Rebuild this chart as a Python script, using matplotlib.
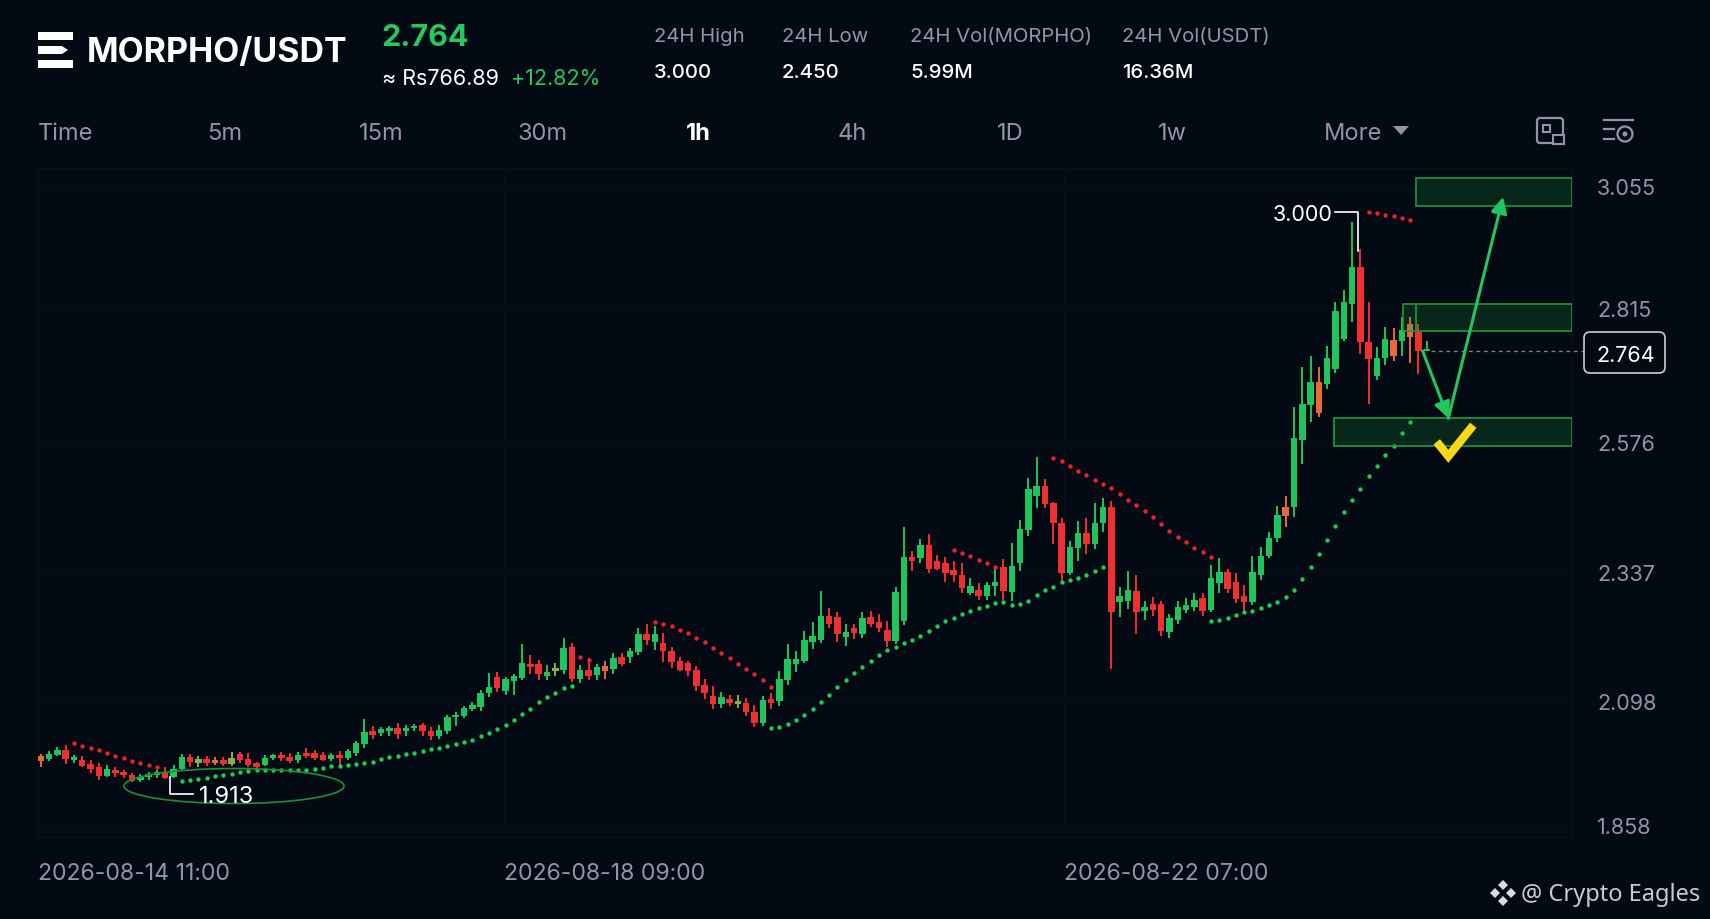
import matplotlib
matplotlib.use('Agg')
import matplotlib.pyplot as plt
import numpy as np
from matplotlib.patches import Rectangle, Ellipse, FancyArrowPatch, FancyBboxPatch, Polygon, Circle

plt.rcParams['font.family'] = ['Inter', 'DejaVu Sans']

# hourly candles
opens = [1.987,1.982,1.990,1.999,1.980,1.980,1.972,1.967,1.950,1.962,
         1.958,1.952,1.943,1.949,1.952,1.955,1.949,1.963,1.986,1.974,
         1.982,1.980,1.980,1.972,1.991,1.982,1.974,1.970,1.983,1.990,
         1.985,1.980,1.993,1.993,1.990,1.982,1.990,1.983,1.993,2.010,
         2.035,2.030,2.034,2.040,2.034,2.039,2.045,2.035,2.025,2.034,
         2.060,2.063,2.076,2.079,2.105,2.136,2.109,2.127,2.134,2.160,
         2.159,2.137,2.146,2.149,2.191,2.131,2.148,2.139,2.155,2.150,
         2.172,2.173,2.182,2.216,2.200,2.198,2.184,2.165,2.161,2.148,
         2.120,2.099,2.085,2.094,2.085,2.086,2.069,2.049,2.094,2.091,
         2.129,2.160,2.166,2.201,2.205,2.249,2.248,2.210,2.226,2.216,
         2.248,2.238,2.224,2.202,2.240,2.360,2.358,2.382,2.353,2.348,
         2.335,2.326,2.293,2.297,2.286,2.305,2.340,2.295,2.348,2.411,
         2.473,2.493,2.460,2.424,2.330,2.376,2.404,2.383,2.423,2.454,
         2.275,2.277,2.296,2.258,2.272,2.272,2.220,2.241,2.261,2.267,
         2.283,2.260,2.311,2.332,2.313,2.286,2.275,2.325,2.361,2.396,
         2.454,2.454,2.579,2.643,2.687,2.684,2.712,2.768,2.832,2.902,
         2.761,2.698,2.731,2.766,2.764,2.796,2.780,2.744]
closes = [1.979,1.991,1.999,1.982,1.985,1.969,1.963,1.951,1.963,1.955,
          1.952,1.941,1.949,1.954,1.957,1.947,1.964,1.986,1.977,1.982,
          1.974,1.974,1.972,1.983,1.980,1.971,1.967,1.983,1.989,1.983,
          1.978,1.990,1.988,1.984,1.980,1.989,1.983,1.997,2.012,2.033,
          2.027,2.038,2.040,2.028,2.040,2.044,2.034,2.025,2.036,2.060,
          2.064,2.077,2.083,2.106,2.117,2.114,2.131,2.137,2.161,2.153,
          2.140,2.145,2.152,2.190,2.131,2.148,2.137,2.153,2.147,2.171,
          2.160,2.184,2.215,2.204,2.216,2.183,2.164,2.149,2.147,2.118,
          2.105,2.085,2.097,2.086,2.091,2.069,2.049,2.092,2.087,2.131,
          2.168,2.168,2.205,2.211,2.249,2.234,2.215,2.220,2.217,2.246,
          2.235,2.227,2.203,2.295,2.360,2.352,2.382,2.338,2.337,2.330,
          2.325,2.302,2.305,2.287,2.307,2.312,2.296,2.343,2.412,2.486,
          2.493,2.458,2.423,2.330,2.379,2.404,2.384,2.424,2.454,2.256,
          2.286,2.297,2.256,2.267,2.260,2.221,2.245,2.267,2.269,2.280,
          2.259,2.320,2.332,2.300,2.281,2.276,2.332,2.362,2.396,2.438,
          2.437,2.582,2.645,2.687,2.629,2.731,2.820,2.836,2.902,2.761,
          2.730,2.731,2.768,2.735,2.784,2.771,2.744,2.745]
highs = [1.991,1.997,2.005,2.008,1.989,1.988,1.980,1.975,1.971,1.966,
         1.961,1.956,1.953,1.958,1.962,1.966,1.971,1.991,1.991,1.987,
         1.987,1.985,1.985,1.995,1.995,1.994,1.977,1.990,1.992,1.995,
         1.994,1.995,2.002,1.998,1.995,1.993,1.997,2.000,2.016,2.056,
         2.044,2.042,2.044,2.049,2.045,2.048,2.049,2.041,2.045,2.064,
         2.070,2.081,2.089,2.111,2.142,2.145,2.135,2.140,2.197,2.177,
         2.167,2.157,2.161,2.209,2.198,2.157,2.170,2.159,2.165,2.180,
         2.181,2.190,2.227,2.234,2.231,2.217,2.192,2.172,2.165,2.155,
         2.131,2.119,2.107,2.102,2.102,2.095,2.082,2.100,2.106,2.147,
         2.197,2.183,2.221,2.238,2.296,2.265,2.256,2.235,2.235,2.257,
         2.259,2.253,2.239,2.303,2.416,2.371,2.394,2.402,2.363,2.360,
         2.353,2.348,2.320,2.311,2.312,2.337,2.356,2.386,2.429,2.507,
         2.546,2.505,2.463,2.433,2.390,2.427,2.433,2.460,2.470,2.465,
         2.303,2.333,2.326,2.277,2.285,2.277,2.253,2.277,2.283,2.292,
         2.292,2.344,2.357,2.337,2.329,2.308,2.362,2.379,2.407,2.455,
         2.473,2.641,2.715,2.736,2.715,2.755,2.837,2.858,2.986,2.936,
         2.836,2.752,2.789,2.788,2.808,2.808,2.796,2.763]
lows = [1.966,1.979,1.988,1.972,1.974,1.966,1.956,1.943,1.949,1.949,
        1.947,1.938,1.938,1.943,1.947,1.944,1.947,1.961,1.966,1.967,
        1.968,1.970,1.968,1.969,1.975,1.967,1.958,1.968,1.980,1.979,
        1.975,1.975,1.983,1.980,1.979,1.978,1.966,1.980,1.987,2.003,
        2.020,2.024,2.024,2.020,2.025,2.035,2.025,2.018,2.020,2.028,
        2.044,2.058,2.072,2.072,2.097,2.107,2.102,2.102,2.130,2.140,
        2.130,2.130,2.137,2.140,2.125,2.124,2.130,2.130,2.131,2.140,
        2.156,2.161,2.176,2.195,2.186,2.163,2.152,2.147,2.137,2.109,
        2.094,2.075,2.078,2.081,2.078,2.062,2.041,2.044,2.076,2.081,
        2.121,2.145,2.161,2.187,2.198,2.226,2.201,2.193,2.206,2.209,
        2.229,2.220,2.191,2.196,2.232,2.333,2.348,2.330,2.336,2.313,
        2.313,2.293,2.289,2.280,2.280,2.287,2.279,2.277,2.333,2.398,
        2.452,2.452,2.384,2.312,2.325,2.353,2.365,2.374,2.406,2.150,
        2.248,2.262,2.216,2.242,2.250,2.212,2.208,2.235,2.255,2.259,
        2.250,2.256,2.293,2.292,2.273,2.259,2.270,2.317,2.358,2.387,
        2.416,2.435,2.534,2.612,2.621,2.673,2.704,2.764,2.799,2.740,
        2.646,2.690,2.719,2.727,2.736,2.723,2.702,2.744]

# candles that look blended in the picture, orange or olive
orange_candles = [0, 21, 68, 150, 154, 163, 165]
olive_candles = [19, 23, 62, 84]

# SAR dots, (first candle, values)
sar_green = [(17, [1.940,1.942,1.944,1.947,1.950,1.952,1.954,1.957,1.959,1.961,1.961,
                   1.961,1.961,1.962,1.962,1.962,1.963,1.965,1.968,1.969,1.971,1.972,
                   1.975,1.977,1.982,1.985,1.988,1.992,1.994,1.997,2.000,2.003,2.006,
                   2.010,2.013,2.017,2.025,2.031,2.038,2.046,2.055,2.066,2.076,2.088,
                   2.098,2.106,2.114,2.119]),
             (88, [2.040,2.042,2.047,2.054,2.064,2.075,2.088,2.102,2.116,2.129,2.142,
                   2.154,2.165,2.176,2.185,2.191,2.199,2.204,2.211,2.221,2.230,2.239,
                   2.246,2.253,2.259,2.265,2.268,2.273,2.276,2.269,2.271,2.278,2.288,
                   2.297,2.304,2.313,2.316,2.320,2.326,2.333,2.340]),
             (141, [2.239,2.241,2.246,2.251,2.256,2.259,2.264,2.269,2.275,2.284,2.298,
                    2.318,2.341,2.365,2.391,2.418,2.444,2.466,2.487,2.511,2.530,2.551,
                    2.568,2.591,2.612])]
sar_red = [(4, [2.011,2.007,2.003,1.999,1.993,1.987,1.983,1.979,1.974,1.970,1.967]),
           (65, [2.173,2.167]),
           (74, [2.238,2.235,2.230,2.223,2.217,2.209,2.200,2.190,2.180,2.170,2.160,
                 2.150,2.140,2.129,2.116]),
           (110, [2.372,2.367,2.361,2.354,2.348,2.340]),
           (122, [2.544,2.539,2.530,2.521,2.513,2.504,2.497,2.488,2.478,2.467,2.457,
                  2.446,2.435,2.421,2.409,2.397,2.387,2.377,2.369,2.359]),
           (160, [3.004,3.002,2.999,2.998,2.994,2.990])]

# drawn zones: (first candle, last candle, low, high)
zones = [(165.7, 184.5, 3.016, 3.068),
         (164.1, 184.5, 2.782, 2.833),
         (155.8, 184.5, 2.567, 2.619)]

tick_pos = [3.054, 2.826, 2.575, 2.332, 2.090, 1.859]
tick_labels = ['3.055', '2.815', '2.576', '2.337', '2.098', '1.858']
date_pos = [-0.3, 55.8, 123.3]
date_labels = ['2026-08-14 11:00', '2026-08-18 09:00', '2026-08-22 07:00']

nav_labels = ['Time', '5m', '15m', '30m', '1h', '4h', '1D', '1w', 'More']
nav_x = [66, 225, 381, 543, 698, 852, 1010, 1172, 1353]

bg = '#040a14'
green = '#1fc45c'
red = '#f22f2f'
zone_green = '#1f9a3c'
gray = '#8f97a6'

fig = plt.figure(figsize=(17.1, 9.2), dpi=100, facecolor=bg)
ax = fig.add_axes([38/1710, 1-838/920, (1572-38)/1710, (838-169)/920], facecolor=bg)

idx = np.arange(len(opens))
opens = np.array(opens)
closes = np.array(closes)
colors = [green if c >= o else red for o, c in zip(opens, closes)]
for i in orange_candles:
    colors[i] = '#e8693a'
for i in olive_candles:
    colors[i] = '#8fae4a'

ax.vlines(idx, lows, highs, colors=colors, linewidth=1.4, zorder=3)
ax.bar(idx, np.maximum(np.abs(closes-opens), 0.004), bottom=np.minimum(opens, closes),
       width=0.78, color=colors, linewidth=0, zorder=4)

for start, vals in sar_green:
    ax.scatter(np.arange(start, start+len(vals)), vals, s=10, color='#16d150', linewidths=0, zorder=5)
for start, vals in sar_red:
    ax.scatter(np.arange(start, start+len(vals)), vals, s=10, color='#f0202a', linewidths=0, zorder=5)

for x0, x1, y0, y1 in zones:
    ax.add_patch(Rectangle((x0, y0), x1-x0, y1-y0, facecolor=zone_green, alpha=0.2, linewidth=0, zorder=6))
    ax.add_patch(Rectangle((x0, y0), x1-x0, y1-y0, facecolor='none', edgecolor=zone_green, linewidth=1.2, zorder=6))
ax.vlines(165.7, 2.782, 2.833, colors=zone_green, linewidth=1.2, zorder=6)

# trade path
ax.add_patch(FancyArrowPatch((166.5, 2.745), (169.6, 2.619), arrowstyle='-|>', mutation_scale=24,
                             color='#22c55e', linewidth=2.2, shrinkA=0, shrinkB=0, zorder=8))
ax.add_patch(FancyArrowPatch((169.6, 2.619), (176.2, 3.033), arrowstyle='-|>', mutation_scale=24,
                             color='#22c55e', linewidth=2.2, shrinkA=0, shrinkB=0, zorder=8))
ax.plot([168.2, 169.6, 172.6], [2.575, 2.548, 2.606], color='#f7d916', linewidth=6,
        solid_joinstyle='miter', solid_capstyle='butt', zorder=9)

# last price line
ax.plot([167.5, 185.8], [closes[-1], closes[-1]], color='#7f8692', linewidth=0.9, linestyle=(0, (3, 3)),
        clip_on=False, zorder=2)

ax.set_xlim(-0.33, 184.5)
ax.set_ylim(1.836, 3.087)
ax.yaxis.tick_right()
ax.set_yticks(tick_pos)
ax.set_yticklabels(tick_labels, fontsize=15.5, color=gray)
ax.set_xticks(date_pos)
ax.set_xticklabels(date_labels, fontsize=16.6, color=gray, ha='left')
ax.tick_params(axis='y', length=0, pad=18)
ax.tick_params(axis='x', length=0, pad=18)
ax.grid(True, color='#080f19', linewidth=0.8, zorder=0)
for s in ax.spines.values():
    s.set_color('#0a111b')
    s.set_linewidth(0.8)

# overlay in picture pixels for the page chrome
ui = fig.add_axes([0, 0, 1, 1], facecolor='none')
ui.set_xlim(0, 1710)
ui.set_ylim(920, 0)
ui.axis('off')

# logo
ui.add_patch(Rectangle((38, 33), 35, 8, color='white', linewidth=0))
ui.add_patch(Polygon([(38, 47), (62, 47), (68, 51), (62, 55), (38, 55)], color='white', linewidth=0))
ui.add_patch(Rectangle((38, 61), 35, 8, color='white', linewidth=0))

ui.text(87, 53, 'MORPHO/USDT', fontsize=24.4, fontweight='bold', color='white', va='center')
ui.text(381, 38, '2.764', fontsize=22, fontweight='bold', color='#26c85f', va='center')
ui.text(382, 79, '≈ Rs766.89', fontsize=15.5, color='white', va='center')
ui.text(511, 79, '+12.82%', fontsize=15.5, color='#26c85f', va='center')

stat_x = [654, 782, 910, 1122]
stat_names = ['24H High', '24H Low', '24H Vol(MORPHO)', '24H Vol(USDT)']
stat_vals = ['3.000', '2.450', '5.99M', '16.36M']
for x, name, val in zip(stat_x, stat_names, stat_vals):
    ui.text(x, 37, name, fontsize=14.6, color=gray, va='center')
    ui.text(x, 73, val, fontsize=14.6, fontweight='medium', color='white', va='center')

for x, lab in zip(nav_x, nav_labels):
    active = lab == '1h'
    ui.text(x, 134, lab, fontsize=17, color='white' if active else gray,
            fontweight='bold' if active else 'normal', ha='center', va='center')
ui.add_patch(Polygon([(1393, 127), (1409, 127), (1401, 136)], color=gray, linewidth=0))

# toolbar icons
ui.add_patch(FancyBboxPatch((1538, 120), 24, 23, boxstyle='round,pad=1,rounding_size=3', fill=False,
                            edgecolor=gray, linewidth=1.6))
ui.add_patch(Rectangle((1543, 126), 7, 7, fill=False, edgecolor=gray, linewidth=1.5))
ui.add_patch(Rectangle((1553, 136), 11, 9, facecolor=bg, edgecolor=gray, linewidth=1.5))
ui.plot([1604, 1633], [121, 121], color=gray, linewidth=1.6)
ui.plot([1604, 1614], [130, 130], color=gray, linewidth=1.6)
ui.plot([1604, 1614], [140, 140], color=gray, linewidth=1.6)
ui.add_patch(Circle((1625, 135), 7.5, fill=False, edgecolor=gray, linewidth=1.6))
ui.add_patch(Circle((1625, 135), 2.5, color=gray, linewidth=0))

# price box
ui.add_patch(FancyBboxPatch((1588, 337), 73, 33, boxstyle='round,pad=4,rounding_size=6', facecolor=bg,
                            edgecolor='#c9ccd2', linewidth=1.2))
ui.text(1626, 356, '2.764', fontsize=15.5, color='white', ha='center', va='center')

# high / low callouts
ui.text(1273, 215, '3.000', fontsize=15.5, color='white', va='center')
ui.plot([1335, 1358, 1358], [213, 213, 252], color='white', linewidth=1.2)
ui.text(199, 797, '1.913', fontsize=17, color='white', va='center')
ui.plot([170, 170, 193], [778, 795, 795], color='white', linewidth=1.2)
ui.add_patch(Ellipse((234, 787), 220, 35, fill=False, edgecolor='#1c8f38', linewidth=1.2))

# watermark
for dx, dy in [(0, -8), (-8, 0), (8, 0), (0, 8)]:
    ui.add_patch(Polygon([(1503+dx, 889+dy), (1508+dx, 894+dy), (1503+dx, 899+dy), (1498+dx, 894+dy)],
                         color='#d7dae0', linewidth=0))
ui.text(1521, 895, '@ Crypto Eagles', fontsize=17, color='#c6cad2', va='center',
        family=['Noto Sans', 'DejaVu Sans'])

fig.savefig('out.png', dpi=100, facecolor=bg)
